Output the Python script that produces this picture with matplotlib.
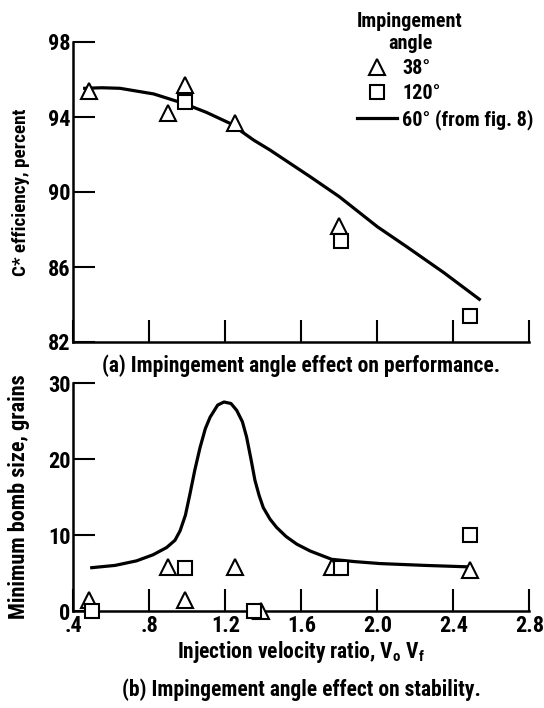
import numpy as np
import matplotlib
matplotlib.use("Agg")
import matplotlib.pyplot as plt
from matplotlib.lines import Line2D

plt.rcParams['font.family'] = ['Roboto Condensed', 'DejaVu Sans']
plt.rcParams['font.weight'] = 'bold'
plt.rcParams['axes.labelweight'] = 'bold'

# (a) performance - C* efficiency, percent
perf_tri_x = [0.48, 0.90, 0.99, 1.25, 1.80]
perf_tri_y = [95.4, 94.2, 95.7, 93.7, 88.2]
perf_sq_x = [0.99, 1.81, 2.49]
perf_sq_y = [94.8, 87.4, 83.4]
perf_curve_x = [0.46, 0.55, 0.646, 0.823, 0.979, 1.10, 1.225, 1.349, 1.435,
                1.646, 1.80, 2.0, 2.155, 2.35, 2.537]
perf_curve_y = [95.53, 95.56, 95.53, 95.23, 94.73, 94.25, 93.66, 92.77, 92.24,
                90.82, 89.75, 88.15, 87.08, 85.7, 84.28]

# (b) stability - minimum bomb size, grains
stab_tri_x = [0.48, 0.90, 0.99, 1.25, 1.39, 1.76, 2.49]
stab_tri_y = [1.5, 5.8, 1.4, 5.8, 0.0, 5.8, 5.4]
stab_sq_x = [0.50, 0.99, 1.35, 1.81, 2.49]
stab_sq_y = [0.0, 5.6, 0.0, 5.6, 10.0]
stab_curve_x = [0.497, 0.62, 0.733, 0.82, 0.891, 0.935, 0.962, 0.99, 1.014, 1.04,
                1.067, 1.095, 1.120, 1.160, 1.193, 1.230, 1.260, 1.290, 1.312,
                1.335, 1.356, 1.378, 1.40, 1.435, 1.470, 1.52, 1.576, 1.646,
                1.76, 1.88, 2.015, 2.25, 2.49]
stab_curve_y = [5.7, 6.0, 6.6, 7.4, 8.35, 9.3, 10.55, 12.6, 15.4, 18.6,
                21.5, 24.0, 25.5, 27.1, 27.5, 27.3, 26.4, 24.9, 22.9,
                20.0, 17.2, 15.2, 13.6, 12.1, 11.0, 9.8, 8.8, 7.9,
                6.8, 6.5, 6.24, 6.0, 5.8]

x_ticks = [0.4, 0.8, 1.2, 1.6, 2.0, 2.4, 2.8]
x_tick_labels = ['.4', '.8', '1.2', '1.6', '2.0', '2.4', '2.8']

fig = plt.figure(figsize=(5.44, 7.08), dpi=100)
W, H = 544, 708
left = 73.3 / W
width = 456 / W
ax1 = fig.add_axes([left, 1 - 342 / H, width, 300 / H])
ax2 = fig.add_axes([left, 1 - 611 / H, width, 228 / H])

mk = dict(linestyle='none', markerfacecolor='white', markeredgecolor='black',
          markeredgewidth=1.5, clip_on=False, zorder=3)
tri = dict(marker='^', markersize=11)
sq = dict(marker='s', markersize=10)

for ax in (ax1, ax2):
    for s in ('top', 'right'):
        ax.spines[s].set_visible(False)
    for s in ('left', 'bottom'):
        ax.spines[s].set_linewidth(1.8)
    ax.set_xlim(0.4, 2.8)
    ax.set_xticks(x_ticks)
    ax.tick_params(direction='in', length=16, width=1.5, labelsize=16, pad=2)

ax1.plot(perf_curve_x, perf_curve_y, color='black', lw=2.3, zorder=2)
ax1.plot(perf_tri_x, perf_tri_y, **tri, **mk)
ax1.plot(perf_sq_x, perf_sq_y, **sq, **mk)
ax1.set_ylim(82, 98)
ax1.set_yticks([82, 86, 90, 94, 98])
ax1.set_xticklabels([])
ax1.set_ylabel('C* efficiency, percent', fontsize=13.8)
ax1.yaxis.set_label_coords(-0.095, 0.5)

ax2.plot(stab_curve_x, stab_curve_y, color='black', lw=2.3, zorder=2)
ax2.plot(stab_tri_x, stab_tri_y, **tri, **mk)
ax2.plot(stab_sq_x, stab_sq_y, **sq, **mk)
ax2.set_ylim(0, 30)
ax2.set_yticks([0, 10, 20, 30])
ax2.set_xticklabels(x_tick_labels)
ax2.tick_params(axis='x', pad=3)
ax2.set_ylabel('Minimum bomb size, grains', fontsize=16)
ax2.yaxis.set_label_coords(-0.095, 0.5)
ax2.set_xlabel(r'Injection velocity ratio, V$_\mathregular{o}$ V$_\mathregular{f}$',
               fontsize=15.5, labelpad=1)

fig.text(301 / W, 1 - 366 / H, '(a) Impingement angle effect on performance.',
         ha='center', va='center', fontsize=15.5)
fig.text(301 / W, 1 - 690 / H, '(b) Impingement angle effect on stability.',
         ha='center', va='center', fontsize=15.5)

handles = [
    Line2D([], [], linestyle='none', markerfacecolor='white', markeredgecolor='black',
           markeredgewidth=1.5, **tri),
    Line2D([], [], linestyle='none', markerfacecolor='white', markeredgecolor='black',
           markeredgewidth=1.5, **sq),
    Line2D([], [], color='black', lw=2.3),
]
leg = fig.legend(handles, ['38°', '120°', '60° (from fig. 8)'],
                 title='Impingement\nangle', loc='upper left',
                 bbox_to_anchor=(347 / W, 1 - 2 / H), frameon=False,
                 fontsize=14.5, title_fontsize=14.5, borderpad=0,
                 handlelength=2.0, handletextpad=0.25, labelspacing=0.3,
                 alignment='left')
leg.get_title().set_multialignment('center')

fig.savefig('out.png', dpi=100)
